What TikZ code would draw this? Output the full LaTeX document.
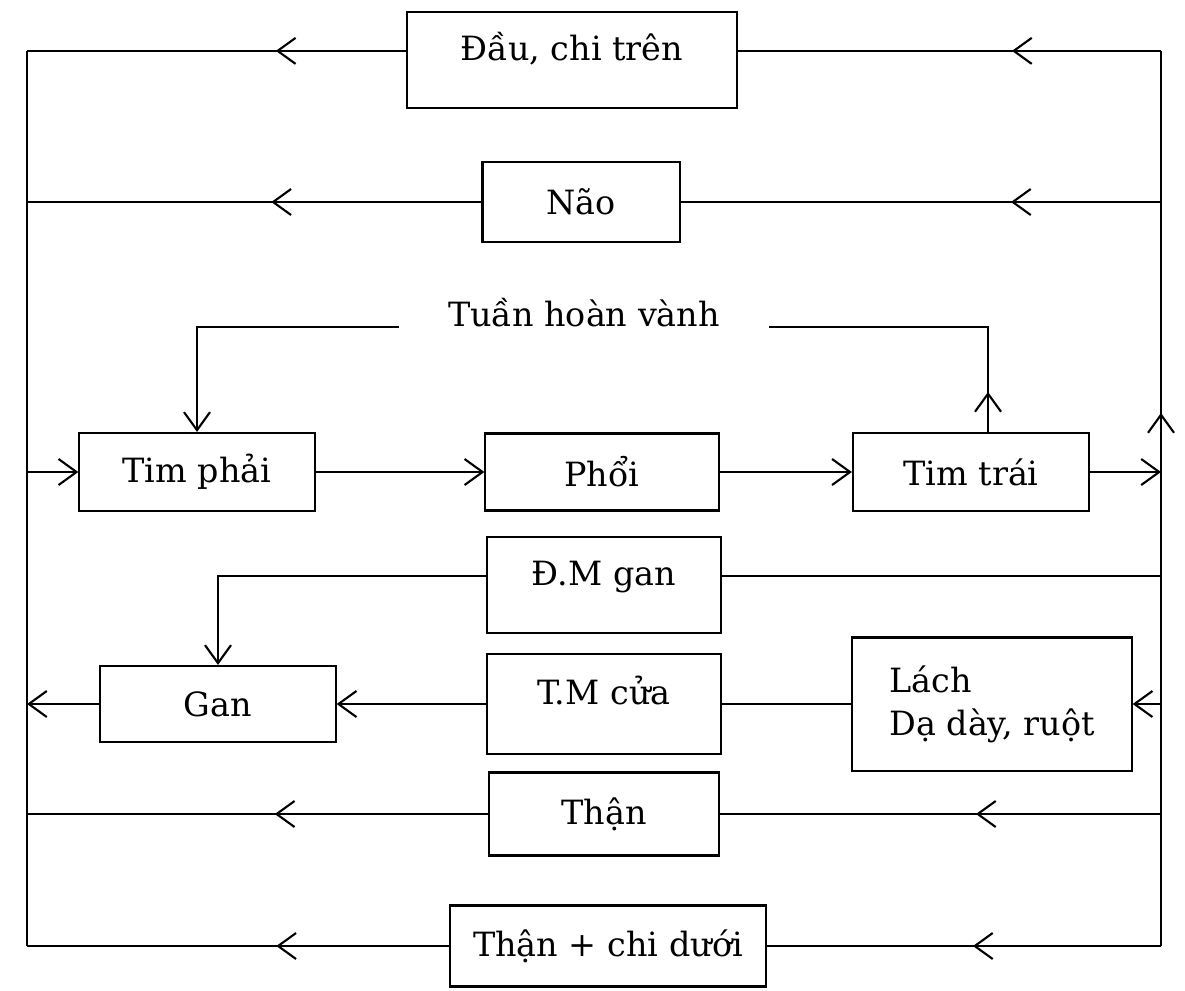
\documentclass[tikz,border=0pt]{standalone}
\usepackage{fontspec}
\setmainfont{DejaVu Serif}
\usetikzlibrary{arrows.meta,decorations.markings}

\begin{document}
\begin{tikzpicture}[
  x=0.01cm,y=-0.01cm,
  line width=0.6pt,
  font=\fontsize{9.5}{12.2}\selectfont,
  box/.style={draw,minimum width=2.33cm,minimum height=0.8cm,align=center},
  tall/.style={minimum height=0.96cm,text height=0.3cm,text depth=0.3cm},
  arr/.style={-{Straight Barb[length=1.8mm,width=2.6mm]}},
  mid arrow/.style={postaction={decorate},decoration={markings,
    mark=at position #1 with {\arrow{Straight Barb[length=1.8mm,width=2.6mm]}}}}
]
\useasboundingbox (0,0) rectangle (1185,990);

\node[box,tall,minimum width=3.3cm] (dau) at (572,60) {Đầu, chi trên};
\node[box,minimum width=1.97cm] (nao) at (581,202) {Não};
\node[inner xsep=0.48cm] (vanh) at (584,313) {Tuần hoàn vành};
\node[box,minimum width=2.35cm,minimum height=0.78cm] (tphai) at (197,472) {Tim phải};
\node[box,minimum height=0.77cm] (phoi) at (602,472) {Phổi};
\node[box,minimum width=2.36cm,minimum height=0.78cm] (ttrai) at (971,472) {Tim trái};
\node[box,tall] (dmgan) at (604,585) {Đ.M gan};
\node[box,tall,minimum height=1cm] (tmcua) at (604,704) {T.M cửa};
\node[box,minimum width=2.79cm,minimum height=1.33cm,align=left] (lach) at (992,704)
  {Lách\\Dạ dày, ruột};
\node[box,minimum width=2.35cm,minimum height=0.76cm] (gan) at (218,704) {Gan};
\node[box,minimum width=2.3cm,minimum height=0.83cm] (than) at (604,814) {Thận};
\node[box,minimum width=3.15cm,minimum height=0.81cm] (thanchi) at (608,946) {Thận + chi dưới};

\coordinate (lx) at (27,0);
\coordinate (rx) at (1161,0);
\coordinate (lt) at (dau.mid west -| lx);
\coordinate (rt) at (dau.mid east -| rx);
\coordinate (lb) at (thanchi.west -| lx);
\coordinate (rb) at (thanchi.east -| rx);
\coordinate (up) at ([xshift=0.17cm]ttrai.north);

\draw (lt) -- (lb);
\draw (rt) -- (rb);
\draw[mid arrow=0.59cm] (ttrai.east -| rx) -- (rt);

\draw[mid arrow=1.49cm] (rt) -- (dau.mid east);
\draw[mid arrow=1.3cm] (dau.mid west) -- (lt);
\draw[mid arrow=1.5cm] (nao.east -| rx) -- (nao.east);
\draw[mid arrow=2.1cm] (nao.west) -- (nao.west -| lx);

\draw[mid arrow=0.4cm] (up) |- (vanh.base east);
\draw[arr] (vanh.base west) -| (tphai.north);

\draw[arr] (tphai.west -| lx) -- (tphai.west);
\draw[arr] (tphai) -- (phoi);
\draw[arr] (phoi) -- (ttrai);
\draw[arr] (ttrai.east) -- (ttrai.east -| rx);

\draw (dmgan.mid east -| rx) -- (dmgan.mid east);
\draw[arr] (dmgan.mid west) -| (gan.north);
\draw[arr] (lach.east -| rx) -- (lach.east);
\draw (lach.west) -- (tmcua.east);
\draw[arr] (tmcua.west) -- (gan.east);
\draw[arr] (gan.west) -- (gan.west -| lx);

\draw[mid arrow=1.85cm] (than.east -| rx) -- (than.east);
\draw[mid arrow=2.13cm] (than.west) -- (than.west -| lx);
\draw[mid arrow=1.88cm] (rb) -- (thanchi.east);
\draw[mid arrow=1.73cm] (thanchi.west) -- (lb);
\end{tikzpicture}
\end{document}
